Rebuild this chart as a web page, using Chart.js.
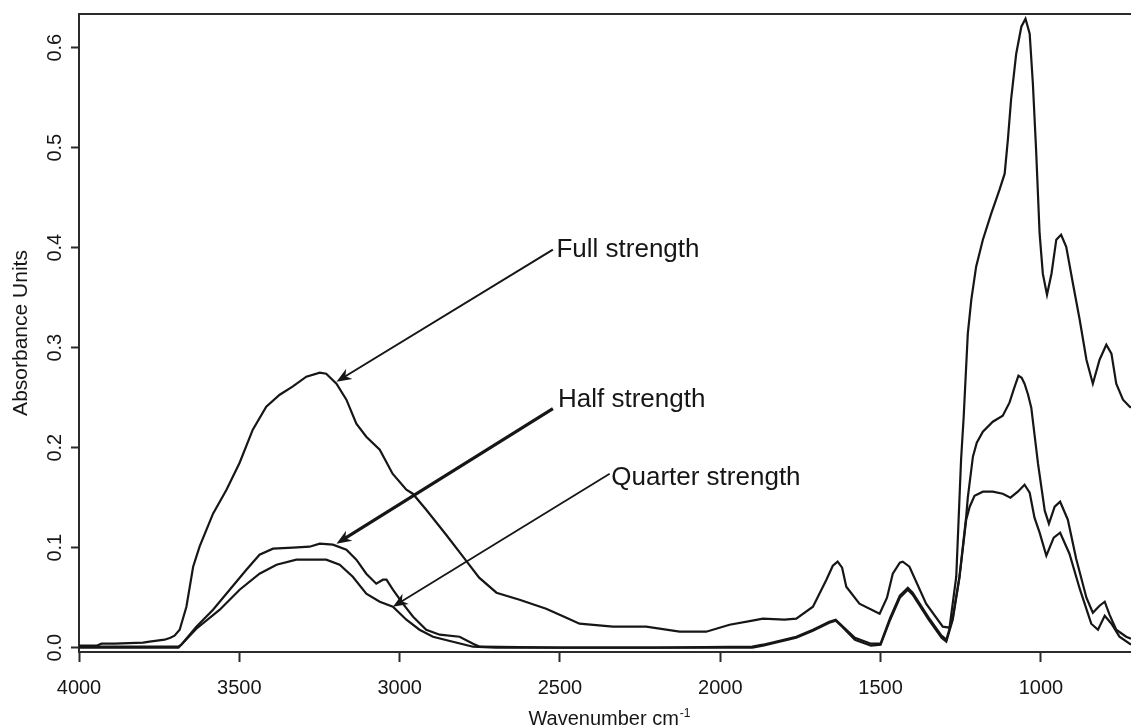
<!DOCTYPE html>
<html>
<head>
<meta charset="utf-8">
<title>Absorbance spectra</title>
<script src="https://cdn.jsdelivr.net/npm/chart.js"></script>
<style>
  html, body { margin: 0; padding: 0; background: #fff; }
  canvas { display: block; }
</style>
</head>
<body>
<canvas id="spectra" width="1131" height="727"></canvas>
<script>
  // wavenumber (cm-1) and absorbance, one pair of arrays per dilution
  const fullWn = [4000, 3945, 3930, 3889, 3800, 3780, 3733, 3715, 3702, 3686, 3665, 3644, 3624, 3582, 3540, 3499,
    3458, 3416, 3374, 3334, 3291, 3249, 3229, 3197, 3166, 3135, 3104, 3062, 3022, 2979, 2959, 2917, 2855, 2800,
    2752, 2698, 2626, 2543, 2480, 2439, 2335, 2231, 2127, 2044, 1971, 1900, 1867, 1800, 1763, 1711, 1669, 1649,
    1634, 1620, 1607, 1566, 1503, 1480, 1462, 1440, 1431, 1410, 1358, 1306, 1285, 1264, 1249, 1241, 1228, 1217,
    1202, 1181, 1155, 1129, 1113, 1103, 1093, 1077, 1061, 1048, 1035, 1025, 1015, 1004, 994, 981, 967, 952, 937,
    921, 900, 879, 858, 838, 817, 796, 780, 765, 744, 723, 719];
  const fullAbs = [0.002, 0.002, 0.004, 0.004, 0.005, 0.006, 0.008, 0.010, 0.012, 0.018, 0.041, 0.081, 0.101, 0.134,
    0.158, 0.185, 0.218, 0.241, 0.253, 0.261, 0.271, 0.275, 0.274, 0.264, 0.248, 0.224, 0.211, 0.198, 0.174, 0.158,
    0.154, 0.138, 0.113, 0.090, 0.070, 0.055, 0.048, 0.039, 0.030, 0.024, 0.021, 0.021, 0.016, 0.016, 0.023, 0.027,
    0.029, 0.028, 0.029, 0.041, 0.068, 0.082, 0.086, 0.080, 0.061, 0.044, 0.034, 0.050, 0.074, 0.085, 0.086, 0.081,
    0.044, 0.021, 0.020, 0.071, 0.188, 0.230, 0.314, 0.348, 0.381, 0.408, 0.434, 0.458, 0.474, 0.508, 0.548, 0.594,
    0.621, 0.629, 0.614, 0.564, 0.498, 0.414, 0.374, 0.353, 0.374, 0.408, 0.413, 0.401, 0.364, 0.328, 0.288, 0.264,
    0.288, 0.303, 0.294, 0.264, 0.248, 0.241, 0.240];

  const halfWn = [4000, 3900, 3690, 3681, 3634, 3582, 3530, 3478, 3437, 3395, 3333, 3281, 3249, 3208, 3166, 3135,
    3104, 3073, 3052, 3041, 3021, 2990, 2958, 2917, 2875, 2813, 2771, 2750, 2500, 2200, 1900, 1867, 1763, 1711,
    1660, 1640, 1620, 1580, 1530, 1500, 1470, 1440, 1415, 1400, 1350, 1310, 1295, 1275, 1254, 1233, 1228, 1212,
    1200, 1181, 1150, 1119, 1098, 1085, 1070, 1060, 1051, 1040, 1030, 1009, 988, 975, 957, 940, 916, 890, 858,
    838, 817, 801, 786, 765, 734, 719];
  const halfAbs = [0.001, 0.001, 0.001, 0.003, 0.021, 0.038, 0.058, 0.078, 0.093, 0.099, 0.100, 0.101, 0.104, 0.103,
    0.098, 0.088, 0.074, 0.064, 0.068, 0.068, 0.058, 0.044, 0.031, 0.018, 0.013, 0.011, 0.004, 0.001, 0.000, 0.000,
    0.001, 0.003, 0.011, 0.018, 0.026, 0.028, 0.022, 0.010, 0.004, 0.004, 0.030, 0.052, 0.060, 0.055, 0.030, 0.012,
    0.008, 0.030, 0.071, 0.131, 0.150, 0.191, 0.205, 0.216, 0.226, 0.232, 0.245, 0.258, 0.272, 0.270, 0.264, 0.253,
    0.240, 0.184, 0.137, 0.124, 0.141, 0.146, 0.128, 0.089, 0.050, 0.035, 0.042, 0.046, 0.033, 0.018, 0.011, 0.009];

  const quarterWn = [4000, 3690, 3681, 3634, 3561, 3499, 3437, 3384, 3322, 3229, 3187, 3146, 3104, 3062, 3021, 2979,
    2938, 2896, 2834, 2771, 2700, 2200, 1900, 1867, 1763, 1711, 1660, 1640, 1620, 1580, 1530, 1500, 1470, 1440,
    1415, 1400, 1350, 1310, 1295, 1275, 1254, 1233, 1222, 1207, 1181, 1150, 1119, 1095, 1072, 1051, 1035, 1020,
    1004, 983, 960, 940, 911, 879, 843, 822, 801, 780, 755, 719];
  const quarterAbs = [0.000, 0.000, 0.003, 0.019, 0.038, 0.058, 0.074, 0.083, 0.088, 0.088, 0.083, 0.071, 0.054,
    0.046, 0.041, 0.028, 0.018, 0.011, 0.006, 0.001, 0.000, 0.000, 0.000, 0.002, 0.010, 0.017, 0.025, 0.027, 0.021,
    0.008, 0.002, 0.003, 0.028, 0.050, 0.058, 0.053, 0.028, 0.010, 0.006, 0.028, 0.070, 0.128, 0.141, 0.152, 0.156,
    0.156, 0.154, 0.150, 0.156, 0.163, 0.155, 0.130, 0.115, 0.092, 0.110, 0.115, 0.094, 0.059, 0.024, 0.018, 0.032,
    0.024, 0.011, 0.003];

  const seriesNames = ['Full strength', 'Half strength', 'Quarter strength'];
  const xTicks = [4000, 3500, 3000, 2500, 2000, 1500, 1000];
  const yTicks = [0, 0.1, 0.2, 0.3, 0.4, 0.5, 0.6];

  const FONT = '"Liberation Sans", Arial, Helvetica, sans-serif';
  const INK = '#161616';
  const AXIS = '#2b2b2b';

  Chart.defaults.font.family = FONT;
  Chart.defaults.color = INK;

  const toPoints = (wn, ab) => wn.map((w, i) => ({ x: w, y: ab[i] }));

  // callouts: label anchor, arrow tail and arrow tip, all in (wavenumber, absorbance)
  const callouts = [
    { text: seriesNames[0], at: [2511, 0.391], tail: [2522, 0.398], tip: [3197, 0.266], width: 2 },
    { text: seriesNames[1], at: [2506, 0.241], tail: [2522, 0.239], tip: [3197, 0.104], width: 3.2 },
    { text: seriesNames[2], at: [2340, 0.163], tail: [2345, 0.174], tip: [3021, 0.041], width: 1.8 }
  ];

  function arrowHead(ctx, x1, y1, x2, y2, len, half) {
    const a = Math.atan2(y2 - y1, x2 - x1);
    ctx.save();
    ctx.translate(x2, y2);
    ctx.rotate(a);
    ctx.beginPath();
    ctx.moveTo(0, 0);
    ctx.lineTo(-len, -half);
    ctx.lineTo(-len * 0.7, 0);
    ctx.lineTo(-len, half);
    ctx.closePath();
    ctx.fill();
    ctx.restore();
  }

  // top edge of the box, the callout arrows and the x axis title with its superscript
  const decorations = {
    id: 'decorations',
    afterDraw(chart) {
      const { ctx, chartArea: area, scales: { x, y } } = chart;
      ctx.save();
      ctx.strokeStyle = AXIS;
      ctx.lineWidth = 2;
      ctx.beginPath();
      ctx.moveTo(area.left - 1, area.top);
      ctx.lineTo(area.right, area.top);
      ctx.stroke();

      ctx.fillStyle = INK;
      ctx.strokeStyle = INK;
      ctx.font = '26px ' + FONT;
      ctx.textBaseline = 'alphabetic';
      ctx.textAlign = 'left';
      callouts.forEach(c => {
        const tx = x.getPixelForValue(c.tail[0]), ty = y.getPixelForValue(c.tail[1]);
        const px = x.getPixelForValue(c.tip[0]), py = y.getPixelForValue(c.tip[1]);
        ctx.lineWidth = c.width;
        const a = Math.atan2(py - ty, px - tx);
        ctx.beginPath();
        ctx.moveTo(tx, ty);
        ctx.lineTo(px - Math.cos(a) * 9, py - Math.sin(a) * 9);
        ctx.stroke();
        arrowHead(ctx, tx, ty, px, py, 15, 6);
        ctx.fillText(c.text, x.getPixelForValue(c.at[0]), y.getPixelForValue(c.at[1]));
      });

      const main = 'Wavenumber cm';
      const sup = '-1';
      ctx.font = '20px ' + FONT;
      const w1 = ctx.measureText(main).width;
      ctx.font = '12px ' + FONT;
      const w2 = ctx.measureText(sup).width;
      const left = (area.left + area.right) / 2 - (w1 + w2) / 2 + 4;
      const base = 725;
      ctx.font = '20px ' + FONT;
      ctx.fillText(main, left, base);
      ctx.font = '12px ' + FONT;
      ctx.fillText(sup, left + w1 + 1, base - 8);
      ctx.restore();
    }
  };

  new Chart(document.getElementById('spectra'), {
    type: 'line',
    data: {
      datasets: [
        { label: seriesNames[0], data: toPoints(fullWn, fullAbs) },
        { label: seriesNames[1], data: toPoints(halfWn, halfAbs) },
        { label: seriesNames[2], data: toPoints(quarterWn, quarterAbs) }
      ]
    },
    options: {
      responsive: false,
      animation: false,
      devicePixelRatio: 1,
      layout: { padding: { top: 14, right: 0, bottom: 0, left: 0 } },
      elements: {
        line: { borderColor: INK, borderWidth: 2.2, tension: 0, fill: false },
        point: { radius: 0, hoverRadius: 0 }
      },
      plugins: { legend: { display: false }, tooltip: { enabled: false } },
      scales: {
        x: {
          type: 'linear',
          reverse: true,
          min: 719,
          max: 4000,
          afterBuildTicks: s => { s.ticks = xTicks.map(v => ({ value: v })); },
          afterFit: s => { s.height = 75; s.paddingLeft = 0; s.paddingRight = 0; },
          grid: { drawOnChartArea: false, tickLength: 10, tickWidth: 2, tickColor: AXIS },
          border: { color: AXIS, width: 2 },
          ticks: { font: { size: 20 }, color: INK, padding: 14, maxRotation: 0, autoSkip: false,
                   callback: v => String(v) }
        },
        y: {
          min: -0.0043,
          max: 0.6337,
          afterBuildTicks: s => { s.ticks = yTicks.map(v => ({ value: v })); },
          afterFit: s => { s.width = 79; s.paddingTop = 0; s.paddingBottom = 0; },
          grid: { drawOnChartArea: false, tickLength: 8, tickWidth: 2, tickColor: AXIS },
          border: { color: AXIS, width: 2 },
          ticks: { font: { size: 20 }, color: INK, padding: 2, minRotation: 90, maxRotation: 90,
                   crossAlign: 'center', autoSkip: false, callback: v => v.toFixed(1) },
          title: { display: true, text: 'Absorbance Units', color: INK, font: { size: 21 },
                   padding: { top: 8.5, bottom: 0 } }
        }
      }
    },
    plugins: [decorations]
  });
</script>
</body>
</html>
